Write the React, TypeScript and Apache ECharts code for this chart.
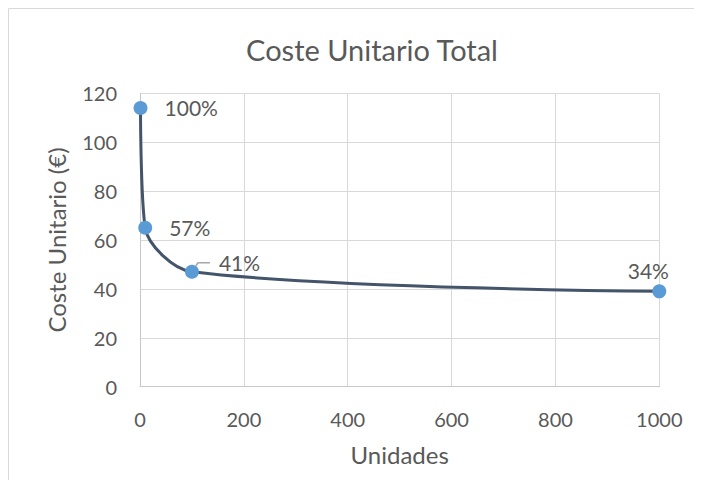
import React, { useEffect, useRef } from "react";
import * as echarts from "echarts";

const units = [1, 10, 100, 1000];
const cost = [114, 65, 47, 39];
const pctLabels = ["100%", "57%", "41%", "34%"];
const titleText = "Coste Unitario Total";
const xName = "Unidades";
const yName = "Coste Unitario (€)";

const FONT = "Lato, 'Open Sans', sans-serif";
const TEXT = "#595959";

export default function App() {
  const ref = useRef<HTMLDivElement>(null);
  useEffect(() => {
    if (!ref.current) return;
    const prevOverflow = document.body.style.overflow;
    document.body.style.overflow = "hidden";
    const chart = echarts.init(ref.current, undefined, { renderer: "svg" });
    const data = units.map((u, i) => {
      const item: any = { value: [u, cost[i]], label: { formatter: pctLabels[i] } };
      if (i === 2) {
        item.label = {
          formatter: pctLabels[i],
          distance: 11,
          padding: [0, 0, 0, 9],
          backgroundColor: "rgba(255,255,255,0)",
        };
        item.labelLine = { show: true, length2: 12, lineStyle: { color: "#A6A6A6", width: 1.5 } };
      }
      if (i === 3) item.label = { formatter: pctLabels[i], position: "top", distance: 3 };
      return item;
    });
    chart.setOption({
      animation: false,
      textStyle: { fontFamily: FONT },
      title: {
        text: titleText,
        left: 359,
        top: 22,
        textAlign: "center",
        textStyle: { fontFamily: FONT, fontSize: 29, fontWeight: "normal", color: TEXT },
      },
      graphic: [
        {
          type: "line",
          shape: { x1: 0.5, y1: 0.5, x2: 2000, y2: 0.5 },
          style: { stroke: "#D9D9D9", lineWidth: 1 },
          silent: true,
        },
        {
          type: "line",
          shape: { x1: 0.5, y1: 0.5, x2: 0.5, y2: 2000 },
          style: { stroke: "#D9D9D9", lineWidth: 1 },
          silent: true,
        },
      ],
      grid: { left: 132, right: 42.7, top: 85.3, bottom: 93.3, containLabel: false },
      xAxis: {
        type: "value",
        min: 0,
        max: 1000,
        interval: 200,
        name: xName,
        nameLocation: "middle",
        nameGap: 56,
        nameTextStyle: { fontFamily: FONT, fontSize: 24, color: TEXT },
        axisLine: { show: true, lineStyle: { color: "#C8C8C8", width: 1 } },
        axisTick: { show: false },
        axisLabel: { fontFamily: FONT, fontSize: 20, color: TEXT, margin: 22, formatter: (v: number) => String(v) },
        splitLine: { show: true, lineStyle: { color: "#D9D9D9", width: 1 } },
      },
      yAxis: {
        type: "value",
        min: 0,
        max: 120,
        interval: 20,
        name: yName,
        nameLocation: "middle",
        nameRotate: 90,
        nameGap: 72,
        nameTextStyle: { fontFamily: FONT, fontSize: 24, color: TEXT },
        axisLine: { show: true, lineStyle: { color: "#C8C8C8", width: 1 } },
        axisTick: { show: false },
        axisLabel: { fontFamily: FONT, fontSize: 20, color: TEXT, margin: 23 },
        splitLine: { show: true, lineStyle: { color: "#D9D9D9", width: 1 } },
      },
      series: [
        {
          type: "line",
          data,
          smooth: 0.3,
          symbol: "circle",
          symbolSize: 14,
          itemStyle: { color: "#5B9BD5", borderWidth: 0 },
          lineStyle: { color: "#44546A", width: 3 },
          label: {
            show: true,
            position: "right",
            distance: 17,
            fontFamily: FONT,
            fontSize: 21,
            color: TEXT,
          },
          labelLine: { show: false },
          labelLayout: (params: any) => {
            if (params.dataIndex === 2) return { dy: -9 };
            if (params.dataIndex === 3) return { dx: -11 };
            return {};
          },
        },
      ],
    });
    return () => {
      chart.dispose();
      document.body.style.overflow = prevOverflow;
    };
  }, []);
  return <div ref={ref} style={{ width: 694, height: 472 }} />;
}
